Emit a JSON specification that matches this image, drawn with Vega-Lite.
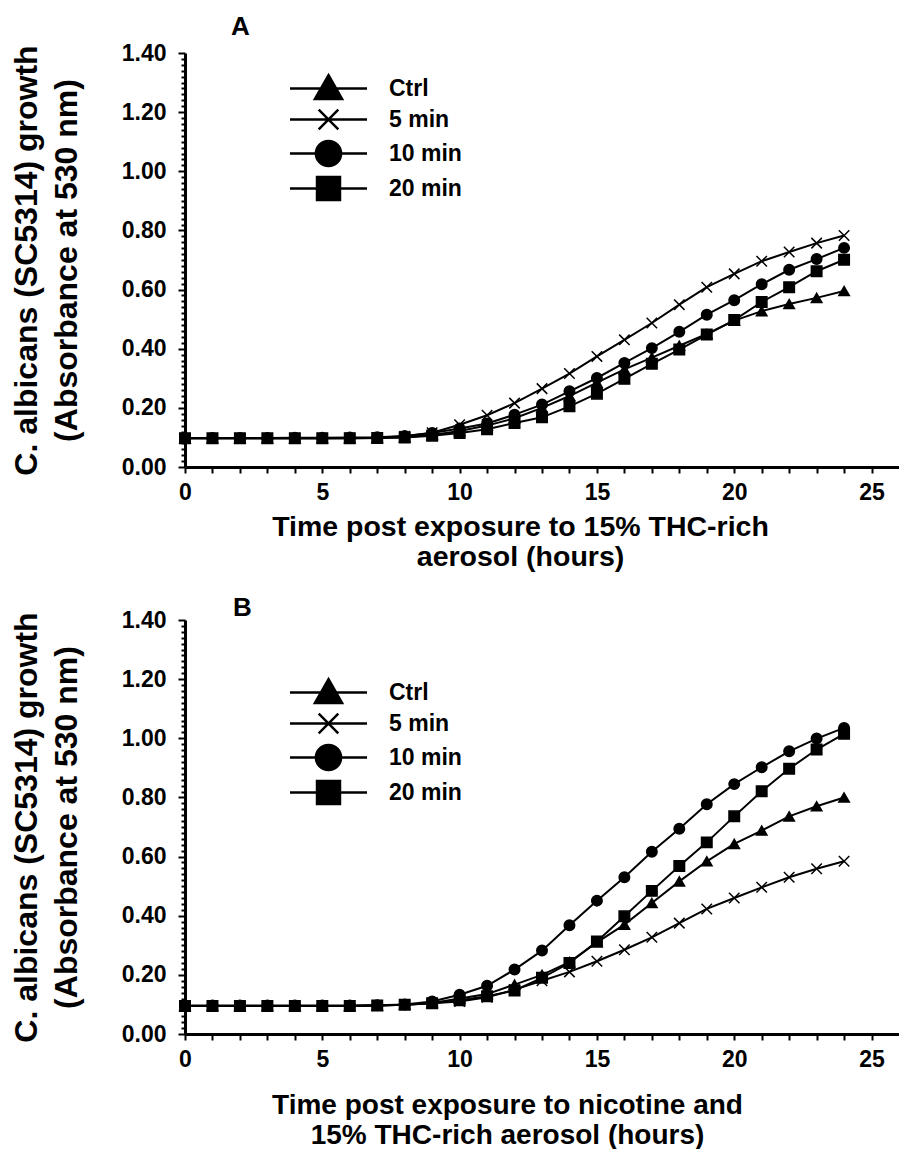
{
  "$schema": "https://vega.github.io/schema/vega-lite/v6.json",
  "background": "white",
  "padding": {"left": 10, "top": 14, "right": 0, "bottom": 0},
  "config": {
    "view": {"stroke": null},
    "font": "Liberation Sans",
    "axis": {"domainColor": "black", "domainWidth": 3, "tickColor": "black", "tickWidth": 2, "labelFont": "Liberation Sans", "labelFontWeight": "bold", "labelFontSize": 23, "labelColor": "black", "titleFont": "Liberation Sans", "titleFontWeight": "bold", "titleColor": "black", "grid": false, "labelOverlap": false, "labelFlush": false, "labelBound": false},
    "title": {"font": "Liberation Sans", "fontWeight": "bold", "fontSize": 26, "color": "black"}
  },
  "datasets": {
    "growth": [
      {"panel":"A","series":"Ctrl","hour":0,"od":0.097},{"panel":"A","series":"Ctrl","hour":1,"od":0.097},{"panel":"A","series":"Ctrl","hour":2,"od":0.097},{"panel":"A","series":"Ctrl","hour":3,"od":0.097},{"panel":"A","series":"Ctrl","hour":4,"od":0.097},{"panel":"A","series":"Ctrl","hour":5,"od":0.097},{"panel":"A","series":"Ctrl","hour":6,"od":0.097},{"panel":"A","series":"Ctrl","hour":7,"od":0.098},{"panel":"A","series":"Ctrl","hour":8,"od":0.101},{"panel":"A","series":"Ctrl","hour":9,"od":0.108},{"panel":"A","series":"Ctrl","hour":10,"od":0.122},{"panel":"A","series":"Ctrl","hour":11,"od":0.14},{"panel":"A","series":"Ctrl","hour":12,"od":0.165},{"panel":"A","series":"Ctrl","hour":13,"od":0.2},{"panel":"A","series":"Ctrl","hour":14,"od":0.24},{"panel":"A","series":"Ctrl","hour":15,"od":0.285},{"panel":"A","series":"Ctrl","hour":16,"od":0.33},{"panel":"A","series":"Ctrl","hour":17,"od":0.37},{"panel":"A","series":"Ctrl","hour":18,"od":0.41},{"panel":"A","series":"Ctrl","hour":19,"od":0.45},{"panel":"A","series":"Ctrl","hour":20,"od":0.495},{"panel":"A","series":"Ctrl","hour":21,"od":0.527},{"panel":"A","series":"Ctrl","hour":22,"od":0.551},{"panel":"A","series":"Ctrl","hour":23,"od":0.572},{"panel":"A","series":"Ctrl","hour":24,"od":0.595},
      {"panel":"A","series":"5 min","hour":0,"od":0.097},{"panel":"A","series":"5 min","hour":1,"od":0.097},{"panel":"A","series":"5 min","hour":2,"od":0.097},{"panel":"A","series":"5 min","hour":3,"od":0.097},{"panel":"A","series":"5 min","hour":4,"od":0.097},{"panel":"A","series":"5 min","hour":5,"od":0.097},{"panel":"A","series":"5 min","hour":6,"od":0.098},{"panel":"A","series":"5 min","hour":7,"od":0.099},{"panel":"A","series":"5 min","hour":8,"od":0.104},{"panel":"A","series":"5 min","hour":9,"od":0.116},{"panel":"A","series":"5 min","hour":10,"od":0.143},{"panel":"A","series":"5 min","hour":11,"od":0.175},{"panel":"A","series":"5 min","hour":12,"od":0.216},{"panel":"A","series":"5 min","hour":13,"od":0.265},{"panel":"A","series":"5 min","hour":14,"od":0.316},{"panel":"A","series":"5 min","hour":15,"od":0.374},{"panel":"A","series":"5 min","hour":16,"od":0.43},{"panel":"A","series":"5 min","hour":17,"od":0.487},{"panel":"A","series":"5 min","hour":18,"od":0.549},{"panel":"A","series":"5 min","hour":19,"od":0.608},{"panel":"A","series":"5 min","hour":20,"od":0.653},{"panel":"A","series":"5 min","hour":21,"od":0.696},{"panel":"A","series":"5 min","hour":22,"od":0.727},{"panel":"A","series":"5 min","hour":23,"od":0.757},{"panel":"A","series":"5 min","hour":24,"od":0.783},
      {"panel":"A","series":"10 min","hour":0,"od":0.098},{"panel":"A","series":"10 min","hour":1,"od":0.098},{"panel":"A","series":"10 min","hour":2,"od":0.098},{"panel":"A","series":"10 min","hour":3,"od":0.098},{"panel":"A","series":"10 min","hour":4,"od":0.099},{"panel":"A","series":"10 min","hour":5,"od":0.099},{"panel":"A","series":"10 min","hour":6,"od":0.1},{"panel":"A","series":"10 min","hour":7,"od":0.101},{"panel":"A","series":"10 min","hour":8,"od":0.105},{"panel":"A","series":"10 min","hour":9,"od":0.115},{"panel":"A","series":"10 min","hour":10,"od":0.13},{"panel":"A","series":"10 min","hour":11,"od":0.147},{"panel":"A","series":"10 min","hour":12,"od":0.177},{"panel":"A","series":"10 min","hour":13,"od":0.211},{"panel":"A","series":"10 min","hour":14,"od":0.256},{"panel":"A","series":"10 min","hour":15,"od":0.301},{"panel":"A","series":"10 min","hour":16,"od":0.352},{"panel":"A","series":"10 min","hour":17,"od":0.402},{"panel":"A","series":"10 min","hour":18,"od":0.457},{"panel":"A","series":"10 min","hour":19,"od":0.515},{"panel":"A","series":"10 min","hour":20,"od":0.564},{"panel":"A","series":"10 min","hour":21,"od":0.618},{"panel":"A","series":"10 min","hour":22,"od":0.667},{"panel":"A","series":"10 min","hour":23,"od":0.703},{"panel":"A","series":"10 min","hour":24,"od":0.741},
      {"panel":"A","series":"20 min","hour":0,"od":0.097},{"panel":"A","series":"20 min","hour":1,"od":0.097},{"panel":"A","series":"20 min","hour":2,"od":0.097},{"panel":"A","series":"20 min","hour":3,"od":0.097},{"panel":"A","series":"20 min","hour":4,"od":0.097},{"panel":"A","series":"20 min","hour":5,"od":0.097},{"panel":"A","series":"20 min","hour":6,"od":0.097},{"panel":"A","series":"20 min","hour":7,"od":0.098},{"panel":"A","series":"20 min","hour":8,"od":0.1},{"panel":"A","series":"20 min","hour":9,"od":0.106},{"panel":"A","series":"20 min","hour":10,"od":0.115},{"panel":"A","series":"20 min","hour":11,"od":0.128},{"panel":"A","series":"20 min","hour":12,"od":0.149},{"panel":"A","series":"20 min","hour":13,"od":0.168},{"panel":"A","series":"20 min","hour":14,"od":0.205},{"panel":"A","series":"20 min","hour":15,"od":0.248},{"panel":"A","series":"20 min","hour":16,"od":0.298},{"panel":"A","series":"20 min","hour":17,"od":0.349},{"panel":"A","series":"20 min","hour":18,"od":0.397},{"panel":"A","series":"20 min","hour":19,"od":0.448},{"panel":"A","series":"20 min","hour":20,"od":0.497},{"panel":"A","series":"20 min","hour":21,"od":0.558},{"panel":"A","series":"20 min","hour":22,"od":0.608},{"panel":"A","series":"20 min","hour":23,"od":0.662},{"panel":"A","series":"20 min","hour":24,"od":0.701},
      {"panel":"B","series":"Ctrl","hour":0,"od":0.095},{"panel":"B","series":"Ctrl","hour":1,"od":0.095},{"panel":"B","series":"Ctrl","hour":2,"od":0.095},{"panel":"B","series":"Ctrl","hour":3,"od":0.095},{"panel":"B","series":"Ctrl","hour":4,"od":0.095},{"panel":"B","series":"Ctrl","hour":5,"od":0.095},{"panel":"B","series":"Ctrl","hour":6,"od":0.095},{"panel":"B","series":"Ctrl","hour":7,"od":0.096},{"panel":"B","series":"Ctrl","hour":8,"od":0.099},{"panel":"B","series":"Ctrl","hour":9,"od":0.105},{"panel":"B","series":"Ctrl","hour":10,"od":0.12},{"panel":"B","series":"Ctrl","hour":11,"od":0.135},{"panel":"B","series":"Ctrl","hour":12,"od":0.167},{"panel":"B","series":"Ctrl","hour":13,"od":0.2},{"panel":"B","series":"Ctrl","hour":14,"od":0.243},{"panel":"B","series":"Ctrl","hour":15,"od":0.31},{"panel":"B","series":"Ctrl","hour":16,"od":0.37},{"panel":"B","series":"Ctrl","hour":17,"od":0.443},{"panel":"B","series":"Ctrl","hour":18,"od":0.516},{"panel":"B","series":"Ctrl","hour":19,"od":0.584},{"panel":"B","series":"Ctrl","hour":20,"od":0.643},{"panel":"B","series":"Ctrl","hour":21,"od":0.688},{"panel":"B","series":"Ctrl","hour":22,"od":0.736},{"panel":"B","series":"Ctrl","hour":23,"od":0.77},{"panel":"B","series":"Ctrl","hour":24,"od":0.8},
      {"panel":"B","series":"5 min","hour":0,"od":0.095},{"panel":"B","series":"5 min","hour":1,"od":0.095},{"panel":"B","series":"5 min","hour":2,"od":0.095},{"panel":"B","series":"5 min","hour":3,"od":0.095},{"panel":"B","series":"5 min","hour":4,"od":0.095},{"panel":"B","series":"5 min","hour":5,"od":0.095},{"panel":"B","series":"5 min","hour":6,"od":0.095},{"panel":"B","series":"5 min","hour":7,"od":0.096},{"panel":"B","series":"5 min","hour":8,"od":0.099},{"panel":"B","series":"5 min","hour":9,"od":0.104},{"panel":"B","series":"5 min","hour":10,"od":0.11},{"panel":"B","series":"5 min","hour":11,"od":0.124},{"panel":"B","series":"5 min","hour":12,"od":0.15},{"panel":"B","series":"5 min","hour":13,"od":0.18},{"panel":"B","series":"5 min","hour":14,"od":0.21},{"panel":"B","series":"5 min","hour":15,"od":0.246},{"panel":"B","series":"5 min","hour":16,"od":0.285},{"panel":"B","series":"5 min","hour":17,"od":0.327},{"panel":"B","series":"5 min","hour":18,"od":0.375},{"panel":"B","series":"5 min","hour":19,"od":0.423},{"panel":"B","series":"5 min","hour":20,"od":0.46},{"panel":"B","series":"5 min","hour":21,"od":0.496},{"panel":"B","series":"5 min","hour":22,"od":0.53},{"panel":"B","series":"5 min","hour":23,"od":0.559},{"panel":"B","series":"5 min","hour":24,"od":0.584},
      {"panel":"B","series":"10 min","hour":0,"od":0.096},{"panel":"B","series":"10 min","hour":1,"od":0.096},{"panel":"B","series":"10 min","hour":2,"od":0.096},{"panel":"B","series":"10 min","hour":3,"od":0.096},{"panel":"B","series":"10 min","hour":4,"od":0.096},{"panel":"B","series":"10 min","hour":5,"od":0.096},{"panel":"B","series":"10 min","hour":6,"od":0.096},{"panel":"B","series":"10 min","hour":7,"od":0.097},{"panel":"B","series":"10 min","hour":8,"od":0.1},{"panel":"B","series":"10 min","hour":9,"od":0.11},{"panel":"B","series":"10 min","hour":10,"od":0.133},{"panel":"B","series":"10 min","hour":11,"od":0.163},{"panel":"B","series":"10 min","hour":12,"od":0.218},{"panel":"B","series":"10 min","hour":13,"od":0.282},{"panel":"B","series":"10 min","hour":14,"od":0.368},{"panel":"B","series":"10 min","hour":15,"od":0.451},{"panel":"B","series":"10 min","hour":16,"od":0.53},{"panel":"B","series":"10 min","hour":17,"od":0.616},{"panel":"B","series":"10 min","hour":18,"od":0.694},{"panel":"B","series":"10 min","hour":19,"od":0.777},{"panel":"B","series":"10 min","hour":20,"od":0.845},{"panel":"B","series":"10 min","hour":21,"od":0.902},{"panel":"B","series":"10 min","hour":22,"od":0.956},{"panel":"B","series":"10 min","hour":23,"od":0.999},{"panel":"B","series":"10 min","hour":24,"od":1.035},
      {"panel":"B","series":"20 min","hour":0,"od":0.095},{"panel":"B","series":"20 min","hour":1,"od":0.095},{"panel":"B","series":"20 min","hour":2,"od":0.095},{"panel":"B","series":"20 min","hour":3,"od":0.095},{"panel":"B","series":"20 min","hour":4,"od":0.095},{"panel":"B","series":"20 min","hour":5,"od":0.095},{"panel":"B","series":"20 min","hour":6,"od":0.095},{"panel":"B","series":"20 min","hour":7,"od":0.096},{"panel":"B","series":"20 min","hour":8,"od":0.099},{"panel":"B","series":"20 min","hour":9,"od":0.104},{"panel":"B","series":"20 min","hour":10,"od":0.114},{"panel":"B","series":"20 min","hour":11,"od":0.128},{"panel":"B","series":"20 min","hour":12,"od":0.147},{"panel":"B","series":"20 min","hour":13,"od":0.19},{"panel":"B","series":"20 min","hour":14,"od":0.24},{"panel":"B","series":"20 min","hour":15,"od":0.313},{"panel":"B","series":"20 min","hour":16,"od":0.398},{"panel":"B","series":"20 min","hour":17,"od":0.484},{"panel":"B","series":"20 min","hour":18,"od":0.568},{"panel":"B","series":"20 min","hour":19,"od":0.648},{"panel":"B","series":"20 min","hour":20,"od":0.736},{"panel":"B","series":"20 min","hour":21,"od":0.821},{"panel":"B","series":"20 min","hour":22,"od":0.897},{"panel":"B","series":"20 min","hour":23,"od":0.962},{"panel":"B","series":"20 min","hour":24,"od":1.015}
    ]
  },
  "spacing": 24,
  "resolve": {"scale": {"shape": "independent", "color": "independent"}, "legend": {"shape": "independent", "color": "independent"}},
  "vconcat": [
    {
      "width": 714, "height": 414,
      "title": {"text": "A", "anchor": "start", "frame": "group", "dx": 46, "offset": 2},
      "data": {"name": "growth"},
      "transform": [{"filter": "datum.panel == 'A'"}],
      "encoding": {
        "x": {"field": "hour", "type": "quantitative", "scale": {"domain": [0, 26], "nice": false},
          "axis": {"values": [0,1,2,3,4,5,6,7,8,9,10,11,12,13,14,15,16,17,18,19,20,21,22,23,24,25], "labelExpr": "datum.value % 5 === 0 ? datum.label : ''", "tickSize": 6, "labelPadding": 8, "titleFontSize": 28.5, "titleLineHeight": 30, "titlePadding": 8, "titleX": 335, "title": ["Time post exposure to 15% THC-rich", "aerosol (hours)"]}},
        "y": {"field": "od", "type": "quantitative", "scale": {"domain": [0, 1.4], "nice": false},
          "axis": {"values": [0,0.02,0.04,0.06,0.08,0.1,0.12,0.14,0.16,0.18,0.2,0.22,0.24,0.26,0.28,0.3,0.32,0.34,0.36,0.38,0.4,0.42,0.44,0.46,0.48,0.5,0.52,0.54,0.56,0.58,0.6,0.62,0.64,0.66,0.68,0.7,0.72,0.74,0.76,0.78,0.8,0.82,0.84,0.86,0.88,0.9,0.92,0.94,0.96,0.98,1,1.02,1.04,1.06,1.08,1.1,1.12,1.14,1.16,1.18,1.2,1.22,1.24,1.26,1.28,1.3,1.32,1.34,1.36,1.38,1.4], "format": ".2f", "labelExpr": "abs(datum.value*5 - round(datum.value*5)) < 0.001 ? datum.label : ''", "tickSize": {"condition": {"test": "abs(datum.value*5 - round(datum.value*5)) < 0.001", "value": 7}, "value": 4}, "labelPadding": 12, "titleFontSize": 32, "titleLineHeight": 40, "titlePadding": 38, "title": ["C. albicans (SC5314) growth", "(Absorbance at  530 nm)"]}}
      },
      "layer": [
        {"mark": {"type": "line", "color": "black", "strokeWidth": 2}, "encoding": {"detail": {"field": "series"}}},
        {"mark": {"type": "point", "filled": true, "stroke": "black", "strokeWidth": 1.5, "size": 110, "opacity": 1},
          "encoding": {
            "shape": {"field": "series", "type": "nominal", "legend": null,
              "scale": {"domain": ["5 min", "Ctrl", "10 min", "20 min"], "range": ["M-1,-1L1,1M-1,1L1,-1", "triangle-up", "circle", "square"]}},
            "color": {"field": "series", "type": "nominal",
              "scale": {"domain": ["Ctrl", "5 min", "10 min", "20 min"], "range": ["black", "black", "black", "black"]},
              "legend": {"title": null, "orient": "none", "legendX": 128, "legendY": 20, "padding": 0, "symbolSize": 784, "labelFont": "Liberation Sans", "labelFontSize": 23, "labelFontWeight": "bold", "labelColor": "black", "labelOffset": 45, "rowPadding": 0,
                "encoding": {"symbols": {"shape": {"condition": [{"test": "datum.value === 'Ctrl'", "value": "M-2.75,0H2.75M0,-0.95L0.97,0.75L-0.97,0.75Z"}, {"test": "datum.value === '5 min'", "value": "M-2.75,0H2.75M-0.7,-0.7L0.7,0.7M-0.7,0.7L0.7,-0.7"}, {"test": "datum.value === '10 min'", "value": "M-2.75,0H2.75M0.9,0A0.9,0.9,0,1,1,-0.9,0A0.9,0.9,0,1,1,0.9,0Z"}], "value": "M-2.75,0H2.75M-0.82,-0.82H0.82V0.82H-0.82Z"}, "stroke": {"value": "black"}, "strokeWidth": {"value": 2.5}, "size": {"value": 784}, "opacity": {"value": 1}}}}}
          }}
      ]
    },
    {
      "width": 714, "height": 414,
      "title": {"text": "B", "anchor": "start", "frame": "group", "dx": 48, "offset": -12},
      "data": {"name": "growth"},
      "transform": [{"filter": "datum.panel == 'B'"}],
      "encoding": {
        "x": {"field": "hour", "type": "quantitative", "scale": {"domain": [0, 26], "nice": false},
          "axis": {"values": [0,1,2,3,4,5,6,7,8,9,10,11,12,13,14,15,16,17,18,19,20,21,22,23,24,25], "labelExpr": "datum.value % 5 === 0 ? datum.label : ''", "tickSize": 6, "labelPadding": 8, "titleFontSize": 28, "titleLineHeight": 30, "titlePadding": 20, "titleX": 322, "title": ["Time post exposure to nicotine and", "15% THC-rich aerosol (hours)"]}},
        "y": {"field": "od", "type": "quantitative", "scale": {"domain": [0, 1.4], "nice": false},
          "axis": {"values": [0,0.02,0.04,0.06,0.08,0.1,0.12,0.14,0.16,0.18,0.2,0.22,0.24,0.26,0.28,0.3,0.32,0.34,0.36,0.38,0.4,0.42,0.44,0.46,0.48,0.5,0.52,0.54,0.56,0.58,0.6,0.62,0.64,0.66,0.68,0.7,0.72,0.74,0.76,0.78,0.8,0.82,0.84,0.86,0.88,0.9,0.92,0.94,0.96,0.98,1,1.02,1.04,1.06,1.08,1.1,1.12,1.14,1.16,1.18,1.2,1.22,1.24,1.26,1.28,1.3,1.32,1.34,1.36,1.38,1.4], "format": ".2f", "labelExpr": "abs(datum.value*5 - round(datum.value*5)) < 0.001 ? datum.label : ''", "tickSize": {"condition": {"test": "abs(datum.value*5 - round(datum.value*5)) < 0.001", "value": 7}, "value": 4}, "labelPadding": 12, "titleFontSize": 32, "titleLineHeight": 40, "titlePadding": 38, "title": ["C. albicans (SC5314) growth", "(Absorbance at  530 nm)"]}}
      },
      "layer": [
        {"mark": {"type": "line", "color": "black", "strokeWidth": 2}, "encoding": {"detail": {"field": "series"}}},
        {"mark": {"type": "point", "filled": true, "stroke": "black", "strokeWidth": 1.5, "size": 110, "opacity": 1},
          "encoding": {
            "shape": {"field": "series", "type": "nominal", "legend": null,
              "scale": {"domain": ["5 min", "Ctrl", "10 min", "20 min"], "range": ["M-1,-1L1,1M-1,1L1,-1", "triangle-up", "circle", "square"]}},
            "color": {"field": "series", "type": "nominal",
              "scale": {"domain": ["Ctrl", "5 min", "10 min", "20 min"], "range": ["black", "black", "black", "black"]},
              "legend": {"title": null, "orient": "none", "legendX": 128, "legendY": 57, "padding": 0, "symbolSize": 784, "labelFont": "Liberation Sans", "labelFontSize": 23, "labelFontWeight": "bold", "labelColor": "black", "labelOffset": 45, "rowPadding": 0,
                "encoding": {"symbols": {"shape": {"condition": [{"test": "datum.value === 'Ctrl'", "value": "M-2.75,0H2.75M0,-0.95L0.97,0.75L-0.97,0.75Z"}, {"test": "datum.value === '5 min'", "value": "M-2.75,0H2.75M-0.7,-0.7L0.7,0.7M-0.7,0.7L0.7,-0.7"}, {"test": "datum.value === '10 min'", "value": "M-2.75,0H2.75M0.9,0A0.9,0.9,0,1,1,-0.9,0A0.9,0.9,0,1,1,0.9,0Z"}], "value": "M-2.75,0H2.75M-0.82,-0.82H0.82V0.82H-0.82Z"}, "stroke": {"value": "black"}, "strokeWidth": {"value": 2.5}, "size": {"value": 784}, "opacity": {"value": 1}}}}}
          }}
      ]
    }
  ]
}
